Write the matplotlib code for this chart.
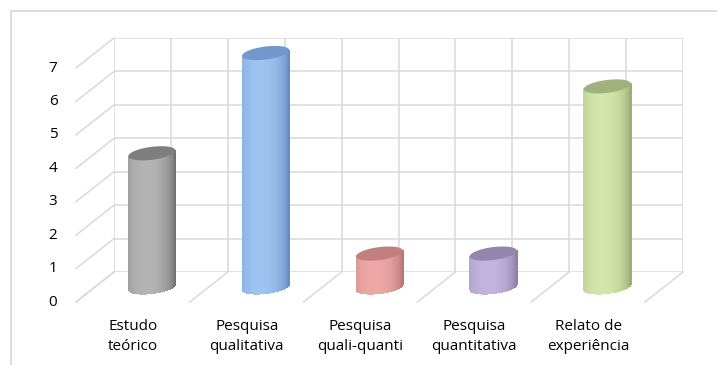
import numpy as np
import matplotlib
matplotlib.use("Agg")
import matplotlib.pyplot as plt
from matplotlib.transforms import Affine2D, IdentityTransform
from matplotlib.collections import PolyCollection
from matplotlib.patches import Polygon
from matplotlib.lines import Line2D

# ---- data -------------------------------------------------------------
categories = ["Estudo\nteórico", "Pesquisa\nqualitativa", "Pesquisa\nquali-quanti",
              "Pesquisa\nquantitativa", "Relato de\nexperiência"]
values = [4, 7, 1, 1, 6]
y_ticks = [0, 1, 2, 3, 4, 5, 6, 7]

# cylinder shading: (highlight, shadow, cap)
bar_light = ["#b4b4b4", "#9dc3f1", "#eda8a6", "#c3b4de", "#d3e5aa"]
bar_dark = ["#696969", "#5d84b8", "#b06e6d", "#84769f", "#93a66e"]
bar_cap = ["#7e7e7e", "#7197cb", "#c27f7e", "#9385ad", "#a0b27c"]

# ---- figure -----------------------------------------------------------
W, H, DPI = 717, 365, 100
fig = plt.figure(figsize=(W / DPI, H / DPI), dpi=DPI)
fig.patch.set_facecolor("white")
plt.rcParams["font.family"] = ["Open Sans", "DejaVu Sans"]

# back wall of the 3-D box
ax = fig.add_axes([114 / W, (H - 272) / H, (683 - 114) / W, (272 - 38) / H])
ax.set_xlim(0, len(categories))
ax.set_ylim(0, max(y_ticks))
ax.axis("off")

# oblique depth: front plane and mid plane offsets in pixels
DX, DY = -38.0, -30.0
front = ax.transData + Affine2D().translate(DX, DY)
mid = ax.transData + Affine2D().translate(DX / 2, DY / 2)

grid_c = "#d9d9d9"
ax.hlines(y_ticks, 0, len(categories), color=grid_c, lw=1.1, zorder=1)
ax.vlines(np.arange(0, len(categories) + 0.01, 0.5), 0, max(y_ticks),
          color=grid_c, lw=1.1, zorder=1)

ident = IdentityTransform()


def depth_line(x, y):
    p0 = ax.transData.transform((x, y))
    p1 = front.transform((x, y))
    ax.add_line(Line2D([p0[0], p1[0]], [p0[1], p1[1]], transform=ident,
                       color=grid_c, lw=1.1, clip_on=False, zorder=1))


# side wall and floor
for v in y_ticks:
    depth_line(0, v)
for k in range(len(categories) + 1):
    depth_line(k, 0)

# y tick labels on the front plane
tick_tr = ax.transData + Affine2D().translate(DX - 23, DY)
for v in y_ticks:
    ax.text(0, v, str(v), transform=tick_tr, ha="center", va="center",
            fontsize=11, color="#000000", clip_on=False)

# category labels under the floor
cat_tr = ax.transData + Affine2D().translate(DX, DY - 34.5)
for i, lab in enumerate(categories):
    ax.text(i + 0.5, 0, lab, transform=cat_tr, ha="center", va="center",
            fontsize=11, linespacing=1.4, color="#000000", clip_on=False)

# ---- cylinders ----------------------------------------------------------
R = 23.5      # radius in pixels
B = 6.5       # cap semi-minor axis in pixels
SLOPE = 0.12  # slight tilt of the caps
N = 60


def shade(c_light, c_dark, u):
    cl = np.array(matplotlib.colors.to_rgb(c_light))
    cd = np.array(matplotlib.colors.to_rgb(c_dark))
    s = 1 - ((u + 0.2) / 1.2) ** 2
    s = np.clip(s, 0, 1) ** 0.55
    return cd + (cl - cd) * s


for i, v in enumerate(values):
    xc, yb = mid.transform((i + 0.5, 0))
    _, yt = mid.transform((i + 0.5, v))
    edges = np.linspace(-1, 1, N + 1)
    polys, cols = [], []
    for a, b in zip(edges[:-1], edges[1:]):
        um = 0.5 * (a + b)
        xa, xb = xc + R * a, xc + R * b + 0.6
        ya_b = yb + SLOPE * R * a - B * np.sqrt(max(0.0, 1 - a * a))
        yb_b = yb + SLOPE * R * b - B * np.sqrt(max(0.0, 1 - b * b))
        ya_t = yt + SLOPE * R * a
        yb_t = yt + SLOPE * R * b
        polys.append([(xa, ya_b), (xb, yb_b), (xb, yb_t), (xa, ya_t)])
        cols.append(shade(bar_light[i], bar_dark[i], um))
    pc = PolyCollection(polys, facecolors=cols, edgecolors="none",
                        transform=ident, antialiased=False, zorder=3,
                        clip_on=False)
    ax.add_collection(pc)
    t = np.linspace(0, 2 * np.pi, 120)
    cap = np.column_stack([xc + R * np.cos(t),
                           yt + B * np.sin(t) + SLOPE * R * np.cos(t)])
    ax.add_patch(Polygon(cap, closed=True, facecolor=bar_cap[i],
                         edgecolor="none", transform=ident, zorder=4,
                         clip_on=False))

# outer chart frame
fr = "#d9d9d9"
fig.add_artist(Line2D([11 / W, 1.0], [1 - 11 / H, 1 - 11 / H],
                      transform=fig.transFigure, color=fr, lw=1.3))
fig.add_artist(Line2D([11 / W, 11 / W], [1 - 11 / H, 0.0],
                      transform=fig.transFigure, color=fr, lw=1.3))

fig.savefig("out.png", dpi=DPI)
